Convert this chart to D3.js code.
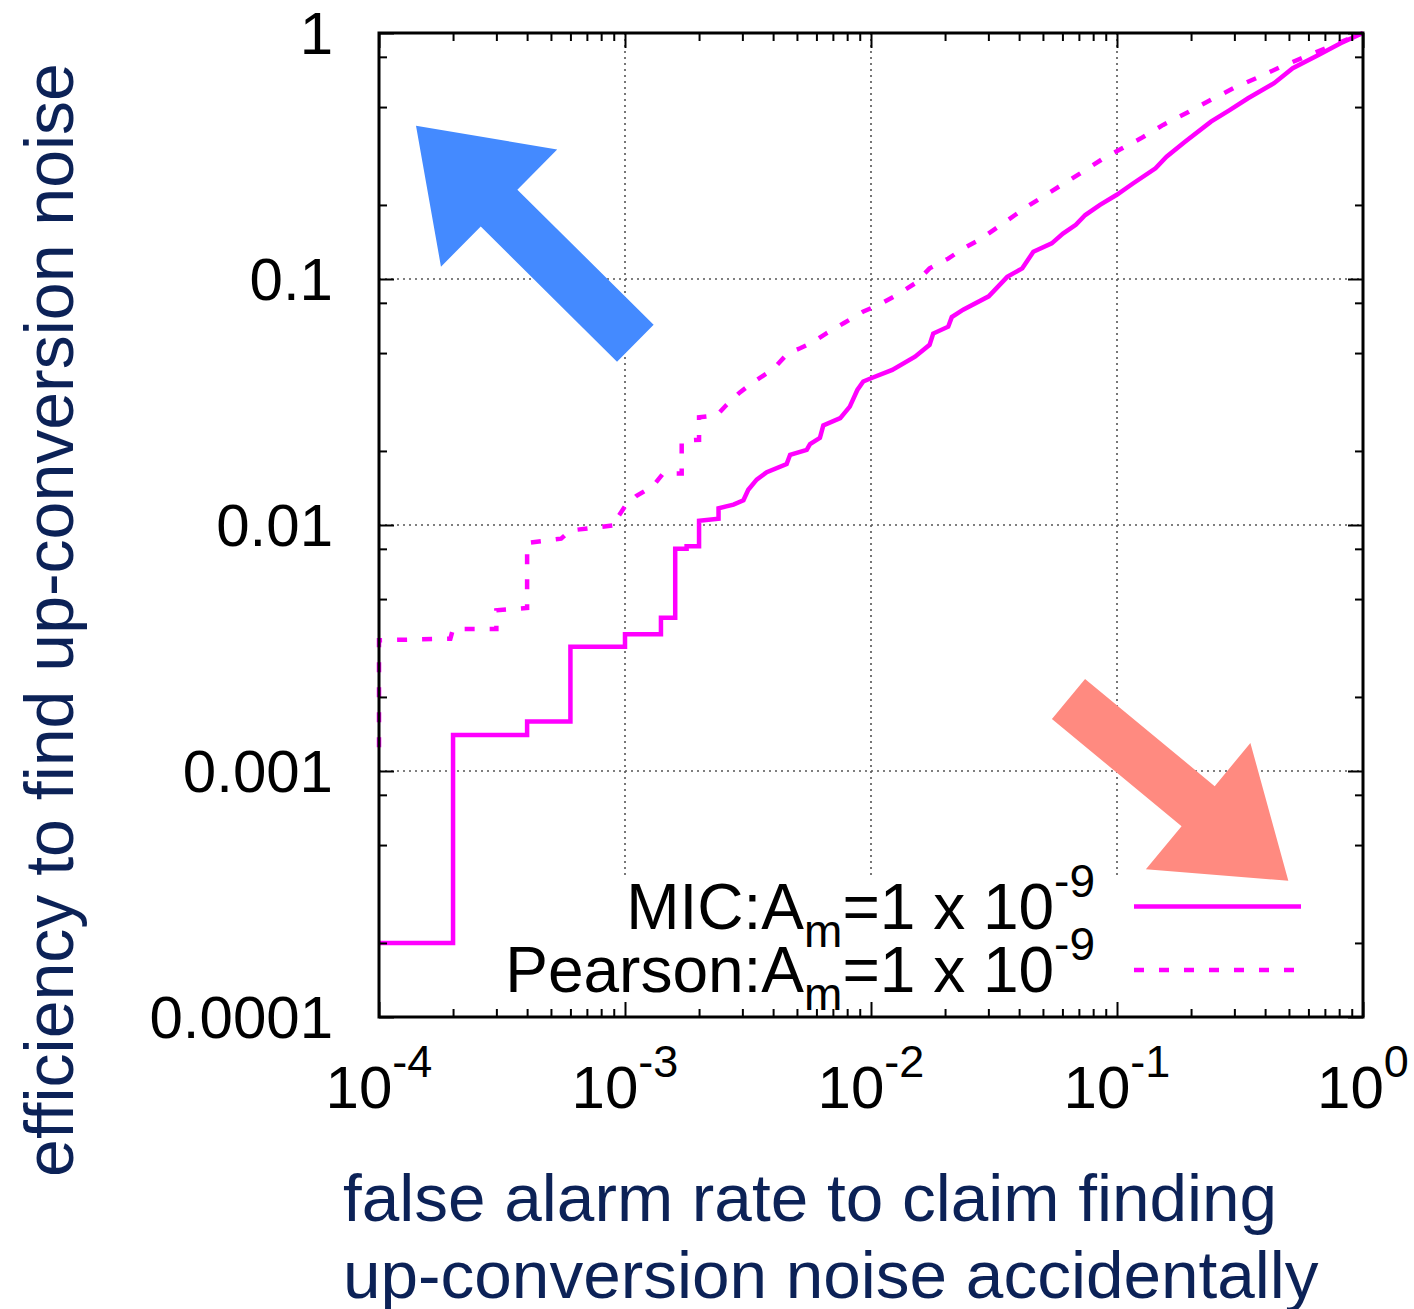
<!DOCTYPE html>
<html>
<head>
<meta charset="utf-8">
<script src="https://cdn.jsdelivr.net/npm/d3@7"></script>
<style>
  html, body { margin: 0; padding: 0; background: #ffffff; }
  svg { display: block; font-family: "Liberation Sans", Arial, Helvetica, sans-serif; }
</style>
</head>
<body>
<svg id="chart" width="1414" height="1309"></svg>
<script>
// ROC-style curves: detection efficiency vs. false alarm rate (log-log)

// decade ticks
const xTickExponents = [-4, -3, -2, -1, 0];
const yTickValues = [1, 0.1, 0.01, 0.001, 0.0001];
const yTickLabels = ["1", "0.1", "0.01", "0.001", "0.0001"];
const yMinorMantissas = [2, 5, 8];
const xMinorMantissas = [2, 3, 4, 5, 6, 7, 8, 9];

// series: [false alarm rate, efficiency]
const micCurve = [
  [1e-4, 2.0e-4], [2.0e-4, 2.0e-4], [2.0e-4, 1.40e-3], [4.0e-4, 1.40e-3],
  [4.0e-4, 1.59e-3], [6.0e-4, 1.59e-3], [6.0e-4, 3.20e-3], [1.0e-3, 3.20e-3],
  [1.0e-3, 3.60e-3], [1.4e-3, 3.60e-3], [1.4e-3, 4.20e-3], [1.6e-3, 4.20e-3],
  [1.6e-3, 8.0e-3], [1.78e-3, 8.0e-3], [1.78e-3, 8.2e-3], [2.0e-3, 8.2e-3],
  [2.0e-3, 1.04e-2], [2.4e-3, 1.06e-2], [2.4e-3, 1.17e-2], [2.76e-3, 1.21e-2],
  [3.03e-3, 1.26e-2], [3.17e-3, 1.39e-2], [3.43e-3, 1.53e-2], [3.77e-3, 1.64e-2],
  [4.54e-3, 1.77e-2], [4.69e-3, 1.93e-2], [5.48e-3, 2.02e-2], [5.65e-3, 2.13e-2],
  [6.2e-3, 2.26e-2], [6.4e-3, 2.54e-2], [7.5e-3, 2.72e-2], [8.2e-3, 3.03e-2],
  [8.8e-3, 3.54e-2], [9.3e-3, 3.83e-2], [1.0e-2, 3.95e-2], [1.22e-2, 4.27e-2],
  [1.51e-2, 4.83e-2], [1.73e-2, 5.4e-2], [1.79e-2, 6.0e-2], [2.06e-2, 6.4e-2],
  [2.13e-2, 7.0e-2], [2.37e-2, 7.5e-2], [3.01e-2, 8.5e-2], [3.58e-2, 0.102],
  [4.12e-2, 0.1105], [4.57e-2, 0.129], [5.43e-2, 0.1396], [6.03e-2, 0.153],
  [6.8e-2, 0.166], [7.43e-2, 0.182], [8.53e-2, 0.200], [9.98e-2, 0.220],
  [0.1165, 0.245], [0.1434, 0.282], [0.159, 0.314], [0.189, 0.361],
  [0.241, 0.436], [0.287, 0.486], [0.341, 0.543], [0.435, 0.625],
  [0.518, 0.719], [0.659, 0.814], [0.811, 0.908], [1.0, 1.0]
];

const pearsonCurve = [
  [1e-4, 1.25e-3], [1e-4, 3.40e-3], [1.95e-4, 3.45e-3], [2.0e-4, 3.78e-3],
  [3.0e-4, 3.78e-3], [3.0e-4, 4.5e-3], [4.0e-4, 4.6e-3], [4.0e-4, 8.45e-3],
  [5.5e-4, 8.8e-3], [6.0e-4, 9.5e-3], [9.25e-4, 1.0e-2], [9.25e-4, 1.06e-2],
  [1.0e-3, 1.19e-2], [1.11e-3, 1.31e-2], [1.3e-3, 1.44e-2], [1.43e-3, 1.62e-2],
  [1.7e-3, 1.62e-2], [1.7e-3, 2.2e-2], [2.0e-3, 2.22e-2], [2.0e-3, 2.74e-2],
  [2.36e-3, 2.79e-2], [2.59e-3, 3.08e-2], [2.93e-3, 3.46e-2], [3.33e-3, 3.81e-2],
  [4.0e-3, 4.3e-2], [4.6e-3, 5.0e-2], [5.15e-3, 5.23e-2], [5.7e-3, 5.48e-2],
  [6.56e-3, 6.0e-2], [7.8e-3, 6.64e-2], [9.27e-3, 7.36e-2], [1.07e-2, 7.84e-2],
  [1.27e-2, 8.6e-2], [1.51e-2, 9.6e-2], [1.73e-2, 0.1105], [2.06e-2, 0.121],
  [2.37e-2, 0.133], [2.81e-2, 0.146], [3.23e-2, 0.161], [3.85e-2, 0.182],
  [4.42e-2, 0.200], [5.25e-2, 0.223], [6.93e-2, 0.265], [8.84e-2, 0.310],
  [0.105, 0.340], [0.125, 0.373], [0.154, 0.423], [0.196, 0.479],
  [0.241, 0.535], [0.297, 0.596], [0.379, 0.664], [0.466, 0.730],
  [0.574, 0.796], [0.706, 0.867], [1.0, 1.0]
];

const seriesNames = ["MIC", "Pearson"];
const amplitudeExponent = "-9";

// plot frame
const plotL = 379, plotR = 1363, plotT = 33, plotB = 1017;
const plotW = plotR - plotL, plotH = plotB - plotT;

const x = d3.scaleLog().domain([1e-4, 1]).range([plotL, plotR]);
const y = d3.scaleLog().domain([1e-4, 1]).range([plotB, plotT]);

const svg = d3.select("#chart");
svg.append("rect").attr("width", 1414).attr("height", 1309).attr("fill", "#fff");

const curveColor = "#ff00ff";
const dash = "10,15";

// grid at decades
const gridX = xTickExponents.slice(1, -1).map(e => Math.pow(10, e));
const gridY = yTickValues.slice(1, -1);
const grid = svg.append("g").attr("stroke", "#555").attr("stroke-width", 1.6)
  .attr("stroke-dasharray", "2,4").attr("fill", "none");
grid.selectAll("line.gx").data(gridX).join("line").attr("class", "gx")
  .attr("x1", d => x(d)).attr("x2", d => x(d)).attr("y1", plotT).attr("y2", plotB);
grid.selectAll("line.gy").data(gridY).join("line").attr("class", "gy")
  .attr("y1", d => y(d)).attr("y2", d => y(d)).attr("x1", plotL).attr("x2", plotR);

// curves
const line = d3.line().x(d => x(d[0])).y(d => y(d[1]));
svg.append("clipPath").attr("id", "plotClip")
  .append("rect").attr("x", plotL - 3).attr("y", plotT - 3).attr("width", plotW + 6).attr("height", plotH + 6);

const curves = svg.append("g").attr("clip-path", "url(#plotClip)");
curves.append("path").datum(pearsonCurve).attr("d", line)
  .attr("fill", "none").attr("stroke", curveColor).attr("stroke-width", 4.5)
  .attr("stroke-dasharray", dash).attr("stroke-linejoin", "miter");
curves.append("path").datum(micCurve).attr("d", line)
  .attr("fill", "none").attr("stroke", curveColor).attr("stroke-width", 4.5)
  .attr("stroke-linejoin", "miter");

// key (opaque box)
svg.append("rect").attr("x", 505).attr("y", 875).attr("width", plotR - 505 - 1.5)
  .attr("height", plotB - 875 - 1.5).attr("fill", "#fff");

const keyFont = 64, keySub = 46;
const keyRows = [
  { name: seriesNames[0], baseline: 929, sampleY: 906.5, dashed: false, x2: 1301 },
  { name: seriesNames[1], baseline: 991.5, sampleY: 970, dashed: true, x2: 1294 }
];
keyRows.forEach(r => {
  const t = svg.append("text").attr("x", 1095).attr("y", r.baseline)
    .attr("text-anchor", "end").attr("font-size", keyFont).attr("fill", "#000");
  t.append("tspan").text(r.name + ":A");
  t.append("tspan").attr("font-size", keySub).attr("dy", 18).text("m");
  t.append("tspan").attr("dy", -18).text("=1 x 10");
  t.append("tspan").attr("font-size", keySub).attr("dy", -32).text(amplitudeExponent);
  svg.append("line").attr("x1", 1134).attr("x2", r.x2).attr("y1", r.sampleY).attr("y2", r.sampleY)
    .attr("stroke", curveColor).attr("stroke-width", 4.5)
    .attr("stroke-dasharray", r.dashed ? dash : null);
});

// direction arrows, in graph-fraction coordinates
const arrows = [
  { from: [0.2605, 0.6847], to: [0.0376, 0.9058], shaft: 52, headW: 165, headL: 117, color: "#448aff" },
  { from: [0.7007, 0.3232], to: [0.9241, 0.1385], shaft: 52, headW: 164, headL: 117, color: "#ff8a80" }
];
const gx = f => plotL + f * plotW, gy = f => plotB - f * plotH;
arrows.forEach(a => {
  const p0 = [gx(a.from[0]), gy(a.from[1])], p1 = [gx(a.to[0]), gy(a.to[1])];
  const dx = p1[0] - p0[0], dy = p1[1] - p0[1], len = Math.hypot(dx, dy);
  const u = [dx / len, dy / len], n = [-u[1], u[0]];
  const b = [p1[0] - u[0] * a.headL, p1[1] - u[1] * a.headL];
  const s = a.shaft / 2, h = a.headW / 2;
  const pts = [
    [p0[0] + n[0] * s, p0[1] + n[1] * s],
    [b[0] + n[0] * s, b[1] + n[1] * s],
    [b[0] + n[0] * h, b[1] + n[1] * h],
    p1,
    [b[0] - n[0] * h, b[1] - n[1] * h],
    [b[0] - n[0] * s, b[1] - n[1] * s],
    [p0[0] - n[0] * s, p0[1] - n[1] * s]
  ];
  svg.append("polygon").attr("points", pts.map(p => p.join(",")).join(" ")).attr("fill", a.color);
});

// ticks (inward, mirrored on all sides)
const majorX = xTickExponents.map(e => Math.pow(10, e));
const minorX = [];
xTickExponents.slice(0, -1).forEach(e => xMinorMantissas.forEach(m => minorX.push(m * Math.pow(10, e))));
const minorY = [];
yTickValues.slice(1).forEach(v => yMinorMantissas.forEach(m => minorY.push(m * v)));

const majorLen = 15, minorLen = 8;
function tickAxis(axisFn, scale, values, len, transform) {
  const g = svg.append("g").attr("transform", transform)
    .call(axisFn(scale).tickValues(values).tickSizeInner(-len).tickSizeOuter(0).tickFormat(""));
  g.select(".domain").remove();
  g.selectAll(".tick line").attr("stroke", "#000").attr("stroke-width", 2);
  return g;
}
tickAxis(d3.axisBottom, x, majorX, majorLen, `translate(0,${plotB})`);
tickAxis(d3.axisBottom, x, minorX, minorLen, `translate(0,${plotB})`);
tickAxis(d3.axisTop, x, majorX, majorLen, `translate(0,${plotT})`);
tickAxis(d3.axisTop, x, minorX, minorLen, `translate(0,${plotT})`);
tickAxis(d3.axisLeft, y, yTickValues, majorLen, `translate(${plotL},0)`);
tickAxis(d3.axisLeft, y, minorY, minorLen, `translate(${plotL},0)`);
tickAxis(d3.axisRight, y, yTickValues, majorLen, `translate(${plotR},0)`);
tickAxis(d3.axisRight, y, minorY, minorLen, `translate(${plotR},0)`);

// border
svg.append("rect").attr("x", plotL).attr("y", plotT).attr("width", plotW).attr("height", plotH)
  .attr("fill", "none").attr("stroke", "#000").attr("stroke-width", 3);

// tick labels
svg.append("g").selectAll("text").data(yTickValues).join("text")
  .attr("x", 333).attr("y", d => y(d) + 21).attr("text-anchor", "end")
  .attr("font-size", 60).attr("fill", "#000")
  .text((d, i) => yTickLabels[i]);

xTickExponents.forEach(e => {
  const t = svg.append("text").attr("x", x(Math.pow(10, e))).attr("y", 1108)
    .attr("text-anchor", "middle").attr("font-size", 60).attr("fill", "#000");
  t.append("tspan").text("10");
  t.append("tspan").attr("font-size", 45).attr("dy", -31).text(String(e));
});

// axis titles
const titleColor = "#0c2257";
svg.append("text").attr("transform", "translate(73,620) rotate(-90)")
  .attr("text-anchor", "middle").attr("font-size", 68).attr("fill", titleColor)
  .text("efficiency to find up-conversion noise");
svg.append("text").attr("x", 343).attr("y", 1221).attr("font-size", 67.5).attr("fill", titleColor)
  .text("false alarm rate to claim finding");
svg.append("text").attr("x", 343).attr("y", 1298).attr("font-size", 67.5).attr("fill", titleColor)
  .text("up-conversion noise accidentally");
</script>
</body>
</html>
